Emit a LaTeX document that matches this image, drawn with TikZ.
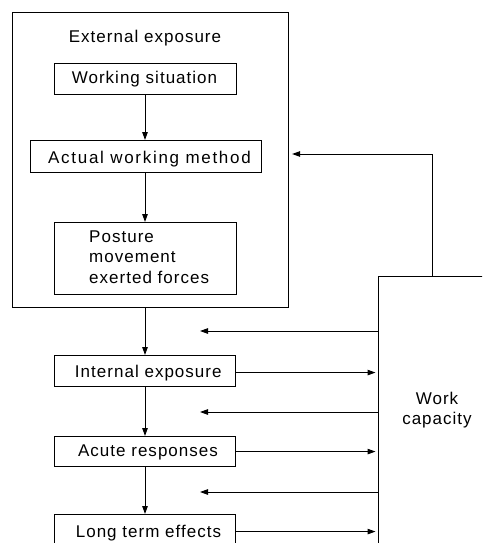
\documentclass[tikz,border=0pt]{standalone}
\usepackage{fontspec}
\setmainfont{Liberation Sans}[LetterSpace=6]
\usetikzlibrary{arrows.meta}
\tikzset{
  box/.style={draw, line width=1.1pt, rectangle, inner sep=0pt, anchor=north west},
  arr/.style={line width=1pt, -{Triangle[length=8pt,width=5.5pt]}},
  lbl/.style={inner sep=0pt}
}
\begin{document}
\begin{tikzpicture}[x=1pt,y=-1pt, font=\fontsize{17}{20.5}\selectfont]
\useasboundingbox (0,0) rectangle (482,543);
\clip (0,0) rectangle (482,543);
% outer box
\node[box, minimum width=276pt, minimum height=295pt] (ext) at (12,12) {};
\node[lbl, anchor=base] (extl) at (145,43) {External exposure};
\node[box, minimum width=182pt, minimum height=31pt] (ws) at (54,63) {};
\node[lbl, anchor=base] (wst) at (144.5,83.5) {Working situation};
\node[box, minimum width=231pt, minimum height=32pt] (awm) at (30,140) {};
\node[lbl, anchor=base] (awmt) at (149.5,163) {\addfontfeature{LetterSpace=10}Actual working method};
\node[box, minimum width=182pt, minimum height=72pt] (pos) at (54,222) {};
\node[lbl, anchor=base west, align=left] (post) at (89,283) {Posture\\movement\\exerted forces};
% lower chain
\node[box, minimum width=181pt, minimum height=31pt] (ie) at (54,355) {};
\node[lbl, anchor=base] (iet) at (148.3,377) {Internal exposure};
\node[box, minimum width=181pt, minimum height=30pt] (ar) at (54,436) {};
\node[lbl, anchor=base] (art) at (148,456) {Acute responses};
\node[box, minimum width=181pt, minimum height=34pt] (lt) at (54,514) {};
\node[lbl, anchor=base] (ltt) at (148.5,537.5) {Long term effects};
% work capacity
\node[box, minimum width=120pt, minimum height=290pt] (wc) at (378,275.5) {};
\node[lbl, align=center] (wct) at (437,410) {Work\\capacity};
% vertical arrows
\draw[arr] (ws.south -| 145,0) -- (awm.north -| 145,0);
\draw[arr] (awm.south -| 145,0) -- (pos.north -| 145,0);
\draw[arr] (ext.south -| 145,0) -- (ie.north -| 145,0);
\draw[arr] (ie.south -| 145,0) -- (ar.north -| 145,0);
\draw[arr] (ar.south -| 145,0) -- (lt.north -| 145,0);
% feedback
\coordinate (fb) at (432,154);
\draw[arr] (wc.north -| fb) -- (fb) -- ([xshift=3pt]ext.east |- fb);
% left arrows
\coordinate (l1) at (200,331);
\coordinate (l2) at (200,412);
\coordinate (l3) at (200,492);
\draw[arr] (wc.west |- l1) -- (l1);
\draw[arr] (wc.west |- l2) -- (l2);
\draw[arr] (wc.west |- l3) -- (l3);
% right arrows
\coordinate (r1) at ([yshift=-1.5pt]ie.east);
\draw[arr, shorten >=2.5pt] (r1) -- (wc.west |- r1);
\draw[arr, shorten >=2.5pt] (ar.east) -- (wc.west |- ar.east);
\draw[arr, shorten >=2.5pt] (lt.east) -- (wc.west |- lt.east);
\end{tikzpicture}
\end{document}
